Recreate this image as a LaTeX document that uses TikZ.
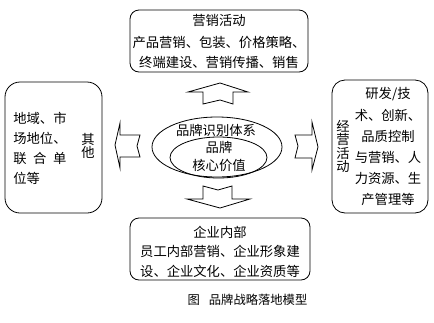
\documentclass[tikz,border=0pt]{standalone}
\usepackage{fontspec}
\setmainfont{Noto Sans CJK SC}
\usetikzlibrary{shapes.geometric}
\begin{document}
\begin{tikzpicture}[x=1pt,y=-1pt,line width=0.8pt,
  box/.style={draw,rectangle,fill=white,inner sep=0pt},
  txt/.style={inner sep=0pt,font=\fontsize{13.3pt}{13pt}\selectfont},
  vtxt/.style={inner sep=0pt,align=center,font=\fontsize{13.3pt}{13.3pt}\selectfont},
  blockarrow/.style={draw,fill=white,line join=miter}]
\useasboundingbox (0,0) rectangle (434,322);
% boxes
\node[box,rounded corners=9pt,minimum width=178pt,minimum height=62pt] (topbox) at (219,41) {};
\node[box,rounded corners=9pt,minimum width=180pt,minimum height=62pt] (botbox) at (220,249) {};
\node[box,rounded corners=15pt,minimum width=97pt,minimum height=131pt] (leftbox) at (53.5,147.5) {};
\node[box,rounded corners=13pt,minimum width=96pt,minimum height=133pt] (rightbox) at (380,146.5) {};
% ellipses
\node[draw,ellipse,minimum width=130pt,minimum height=60pt,inner sep=0pt] (outer) at (217,147) {};
\node[draw,ellipse,minimum width=97pt,minimum height=41pt,inner sep=0pt] (inner) at (218.5,157.5) {};
% block arrows
\draw[blockarrow] (203,104) -- (203,92) -- (188,92) -- (220,83) -- (248,92) -- (233,92) -- (233,104) -- (220,100) -- cycle;
\draw[blockarrow] (203,186) -- (218,190) -- (232,186) -- (232,199) -- (250,199) -- (220,208) -- (187,199) -- (203,199) -- cycle;
\draw[blockarrow] (140,135) -- (120,135) -- (120,123) -- (115,145) -- (120,168) -- (120,157) -- (140,157) -- (137,146) -- cycle;
\draw[blockarrow] (295,135) -- (312,135) -- (312,122) -- (318,147) -- (312,170) -- (312,158) -- (295,158) -- (298,146) -- cycle;
% top box text
\node[txt] (t1) at (219,20) {营销活动};
\node[txt] (t2) at (219,42) {产品营销、包装、价格策略、};
\node[txt] (t3) at (219,62) {终端建设、营销传播、销售};
% bottom box text
\node[txt] (b1) at (220,232) {企业内部};
\node[txt] (b2) at (220,251) {员工内部营销、企业形象建};
\node[txt] (b3) at (220,271) {设、企业文化、企业资质等};
% left box text
\node[txt,anchor=west] (l1) at (13,118) {地域、市};
\node[txt,anchor=west] (l2) at (13,138) {场地位、};
\node[txt,anchor=west] (l3) at (13,158) {\makebox[53pt][s]{联\hfill 合\hfill 单}};
\node[txt,anchor=west] (l4) at (13,178) {位等};
\node[vtxt] (lv) at (88,146) {其\\他};
% right box text
\node[vtxt] (rv) at (343,146.5) {经\\营\\活\\动};
\node[txt] (r1) at (388,94) {研发/技};
\node[txt] (r2) at (388,115) {术、创新、};
\node[txt] (r3) at (388,136) {品质控制};
\node[txt] (r4) at (388,157) {与营销、人};
\node[txt] (r5) at (388,178) {力资源、生};
\node[txt] (r6) at (388,199) {产管理等};
% ellipse text
\node[txt] (e1) at (216,130) {品牌识别体系};
\node[txt] (e2) at (219,147) {品牌};
\node[txt] (e3) at (219,165) {核心价值};
% caption
\node[inner sep=0pt,font=\fontsize{12.3pt}{12pt}\selectfont] (cap) at (247.5,300) {图\hspace{9pt}品牌战略落地模型};
\end{tikzpicture}
\end{document}
